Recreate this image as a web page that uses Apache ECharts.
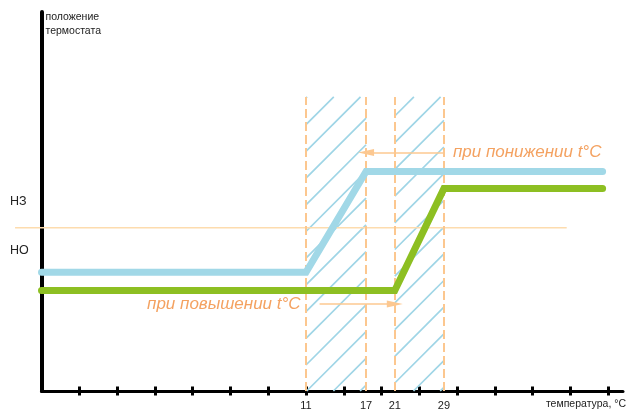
<!DOCTYPE html>
<html><head><meta charset="utf-8">
<script src="https://cdn.jsdelivr.net/npm/echarts@6/dist/echarts.min.js"></script>
<style>html,body{margin:0;padding:0;background:#fff}#c{width:632px;height:412px}</style>
</head><body><div id="c"></div>
<script>
// x positions in tick units (schematic axis), y in 0..100 "position" units
const tempLabels = ['11', '17', '21', '29'];
const tempPos = [7, 8.59, 9.35, 10.65];
const tickPos = [1, 2, 3, 4, 5, 6, 7, 8, 9, 10, 11, 12, 13, 14, 15];
const stateLabels = ['НЗ', 'НО'];
const statePos = [49.9, 37.0];
const blueX = [0, 7, 8.59, 14.85];
const blueY = [31.3, 31.3, 57.9, 57.9];
const greenX = [0, 9.35, 10.65, 14.85];
const greenY = [26.5, 26.5, 53.4, 53.4];
const refX = [-0.7, 13.9];
const refY = 43.1;
const zoneTop = 77.6;
const zones = [[7, 8.59], [9.35, 10.65]];
const arrowFromX = [10.65, 7.36];
const arrowToX = [8.59, 9.35];
const arrowY = [62.9, 22.95];
const arrowText = ['при понижении t°C', 'при повышении t°C'];
const arrowTextGap = [9, 19];

const FONT = "'Liberation Sans', Arial, sans-serif";
const ORANGE_TXT = '#f4a261';

const zip = (xs, ys) => xs.map((x, i) => [x, ys[i]]);

const chart = echarts.init(document.getElementById('c'), null, {renderer: 'canvas'});

const dashedLines = tempPos.map(x => [{coord: [x, 0]}, {coord: [x, zoneTop]}]);
const arrows = arrowFromX.map((x, i) => [
  {coord: [x, arrowY[i]], label: {formatter: arrowText[i], distance: arrowTextGap[i]}},
  {coord: [arrowToX[i], arrowY[i]]}
]);

chart.setOption({
  animation: false,
  grid: {left: 41.5, right: 9, top: 12, bottom: 21, containLabel: false},
  xAxis: [{
    type: 'value', min: 0, max: 15.39, position: 'bottom',
    axisLine: {show: true, lineStyle: {color: '#000', width: 3}},
    axisTick: {show: true, customValues: tickPos, length: 4.5, lineStyle: {color: '#000', width: 3}},
    axisLabel: {
      customValues: tempPos,
      formatter: v => { const i = tempPos.findIndex(p => Math.abs(p - v) < 1e-6); return i >= 0 ? tempLabels[i] : ''; },
      margin: 9, fontSize: 11, color: '#222', fontFamily: FONT
    },
    splitLine: {show: false},
    name: 'температура, °С', nameLocation: 'end', nameGap: 3,
    nameTextStyle: {align: 'right', verticalAlign: 'top', padding: [8, 0, 0, 0], fontSize: 10.5, color: '#222', fontFamily: FONT}
  }, {
    type: 'value', min: 0, max: 15.39, position: 'bottom',
    axisLine: {show: false},
    axisTick: {show: true, inside: true, customValues: tickPos, length: 4.5, lineStyle: {color: '#000', width: 3}},
    axisLabel: {show: false},
    splitLine: {show: false}
  }],
  yAxis: {
    type: 'value', min: 0, max: 100,
    axisLine: {show: true, onZero: false, lineStyle: {color: '#000', width: 4}},
    axisTick: {show: false},
    splitLine: {show: false},
    axisLabel: {
      customValues: statePos,
      formatter: v => { const i = statePos.findIndex(p => Math.abs(p - v) < 1e-6); return i >= 0 ? stateLabels[i] : ''; },
      align: 'left', margin: 31.5, fontSize: 12.5, color: '#222', fontFamily: FONT
    },
    name: 'положение\nтермостата', nameLocation: 'end', nameGap: 2,
    nameTextStyle: {align: 'left', verticalAlign: 'top', lineHeight: 14, padding: [0, 0, 0, 4], fontSize: 10.5, color: '#222', fontFamily: FONT}
  },
  series: [
    {
      type: 'custom', coordinateSystem: 'cartesian2d', clip: false, z: 1, silent: true,
      data: zones,
      encode: {x: [0, 1]},
      renderItem: (params, api) => {
        const p0 = api.coord([api.value(0), 0]);
        const p1 = api.coord([api.value(1), zoneTop]);
        const org = api.coord([0, 0]);
        const x0 = p0[0], x1 = p1[0], yb = p0[1], yt = p1[1];
        const step = 26.7;
        const phase = org[0] + org[1] - 1.8;
        const cmin = x0 + yt, cmax = x1 + yb;
        const children = [];
        for (let c = phase + Math.ceil((cmin - phase) / step) * step; c <= cmax; c += step) {
          const xa = Math.max(x0, c - yb), xb = Math.min(x1, c - yt);
          if (xb <= xa) continue;
          children.push({type: 'line', shape: {x1: xa, y1: c - xa, x2: xb, y2: c - xb},
            style: {stroke: '#9fd5e6', lineWidth: 1.7}});
        }
        return {type: 'group', children};
      }
    },
    {
      // horizontal threshold line between НЗ and НО (extends left of the axis)
      type: 'custom', coordinateSystem: 'cartesian2d', clip: false, z: 2, silent: true,
      data: [[refX[0], refX[1], refY]],
      encode: {x: [0, 1], y: 2},
      renderItem: (params, api) => {
        const a = api.coord([api.value(0), api.value(2)]);
        const b = api.coord([api.value(1), api.value(2)]);
        return {type: 'line', shape: {x1: a[0], y1: a[1], x2: b[0], y2: b[1]},
          style: {stroke: '#fddcae', lineWidth: 1.5}};
      }
    },
    {
      type: 'line', clip: false, z: 2, silent: true, symbol: 'none', data: [],
      markLine: {
        silent: true, symbol: 'none', animation: false,
        lineStyle: {color: '#fcc78f', width: 2, type: [9, 4]},
        label: {show: false},
        data: dashedLines
      }
    },
    {
      type: 'line', clip: false, z: 3, silent: true, symbol: 'none', data: [],
      markLine: {
        silent: true, animation: false,
        symbol: ['none', 'triangle'], symbolSize: [7, 16],
        lineStyle: {color: '#fcc891', width: 1.5, type: 'solid'},
        itemStyle: {color: '#f4a05c'},
        label: {show: true, position: 'start', fontStyle: 'italic', fontSize: 17,
          color: ORANGE_TXT, fontFamily: FONT},
        data: arrows
      }
    },
    {
      type: 'line', clip: false, z: 5, silent: true, symbol: 'none',
      data: zip(blueX, blueY),
      lineStyle: {color: '#a1d8e7', width: 7, cap: 'round', join: 'miter'}
    },
    {
      type: 'line', clip: false, z: 6, silent: true, symbol: 'none',
      data: zip(greenX, greenY),
      lineStyle: {color: '#8dbf22', width: 7, cap: 'round', join: 'miter'}
    }
  ]
});
</script>
</body></html>
